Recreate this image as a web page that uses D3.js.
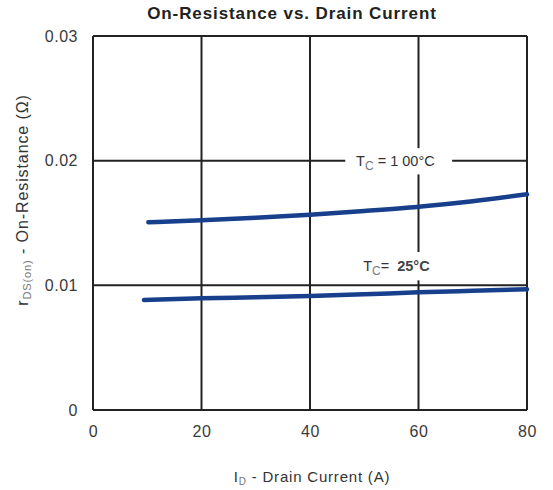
<!DOCTYPE html>
<meta charset="utf-8">
<html>
<script src="https://d3js.org/d3.v7.min.js"></script>
<body style="margin:0;background:#fff;">
<style>
    text { font-family: "Liberation Sans", Arial, sans-serif; fill: #333; }
    .title { font-weight: bold; font-size: 17px; fill: #222; letter-spacing: 0.9px; }
    .tick text { font-size: 16px; fill: #3a3a3a; letter-spacing: 0.5px; }
    .grid line { stroke: #222; stroke-width: 2; }
    .tc { white-space: pre; font-size: 14.5px; }
</style>
<div id="chart"></div>
<script>
    // data
    var xTicks = [0, 20, 40, 60, 80];
    var yTicks = [0, 0.01, 0.02, 0.03];
    var current100 = [10.2, 20, 30, 40, 50, 60, 70, 80];
    var res100 = [0.01506, 0.01522, 0.01542, 0.01567, 0.01597, 0.01631, 0.01675, 0.0173];
    var current25 = [9.4, 20, 30, 40, 50, 60, 70, 80];
    var res25 = [0.00882, 0.00896, 0.00904, 0.00914, 0.00928, 0.00944, 0.00956, 0.00968];

    var margin = {top: 36, right: 26, bottom: 80, left: 93},
        width = 553 - margin.left - margin.right,
        height = 490 - margin.top - margin.bottom;

    var svg = d3.select("#chart").append("svg")
        .attr("width", 553)
        .attr("height", 490);

    var g = svg.append("g")
        .attr("transform", "translate(" + margin.left + "," + margin.top + ")");

    var x = d3.scaleLinear().domain([0, 80]).range([0, width]);
    var y = d3.scaleLinear().domain([0, 0.03]).range([height, 0]);

    //title
    svg.append("text")
        .attr("class", "title")
        .attr("x", 292)
        .attr("y", 19)
        .attr("text-anchor", "middle")
        .text("On-Resistance vs. Drain Current");

    //grid lines
    var grid = g.append("g").attr("class", "grid");
    grid.selectAll("line.v")
        .data(xTicks)
        .enter().append("line")
        .attr("x1", function(d) {return x(d);})
        .attr("x2", function(d) {return x(d);})
        .attr("y1", 0)
        .attr("y2", height);
    grid.selectAll("line.h")
        .data(yTicks)
        .enter().append("line")
        .attr("class", "h")
        .attr("x1", 0)
        .attr("x2", width)
        .attr("y1", function(d) {return y(d);})
        .attr("y2", function(d) {return y(d);});

    //axes (labels only)
    var xAxis = g.append("g")
        .attr("transform", "translate(0," + height + ")")
        .call(d3.axisBottom(x).tickValues(xTicks).tickSize(0).tickPadding(16));
    xAxis.select(".domain").remove();

    var yAxis = g.append("g")
        .call(d3.axisLeft(y).tickValues(yTicks).tickSize(0).tickPadding(15)
            .tickFormat(function(d) {return d === 0 ? "0" : d3.format(".2f")(d);}));
    yAxis.select(".domain").remove();

    //label backgrounds cut the grid
    g.append("rect")
        .attr("x", x(46.5)).attr("y", y(0.0210))
        .attr("width", x(66.2) - x(46.5)).attr("height", y(0.0189) - y(0.0210))
        .attr("fill", "#fff");
    g.append("rect")
        .attr("x", x(49.5)).attr("y", y(0.01267))
        .attr("width", x(64) - x(49.5)).attr("height", y(0.0104) - y(0.01267))
        .attr("fill", "#fff");

    //curves
    var line = d3.line()
        .x(function(d) {return x(d[0]);})
        .y(function(d) {return y(d[1]);})
        .curve(d3.curveMonotoneX);

    g.append("path")
        .datum(d3.zip(current100, res100))
        .attr("d", line)
        .attr("fill", "none")
        .attr("stroke", "#173f8c")
        .attr("stroke-width", 4.5)
        .attr("stroke-linecap", "round");

    g.append("path")
        .datum(d3.zip(current25, res25))
        .attr("d", line)
        .attr("fill", "none")
        .attr("stroke", "#173f8c")
        .attr("stroke-width", 4.5)
        .attr("stroke-linecap", "round");

    //curve labels
    function tcLabel(px, py, mid, rest) {
        var t = g.append("text")
            .attr("class", "tc")
            .attr("x", px)
            .attr("y", py);
        t.append("tspan").text("T");
        t.append("tspan").attr("dy", 4).style("font-size", "12px").style("fill", "#777").text("C");
        t.append("tspan").attr("dy", -4).text(mid);
        t.append("tspan").style("font-weight", "bold").style("fill", "#444").text(rest);
    }
    tcLabel(x(48.5), y(0.0196), " = 1 00°C", "");
    tcLabel(x(49.8), y(0.01115), "=  ", "25°C");

    //x axis title
    var xt = svg.append("text")
        .attr("x", 312)
        .attr("y", 482)
        .attr("text-anchor", "middle")
        .style("font-size", "15px")
        .style("letter-spacing", "0.8px");
    xt.append("tspan").text("I");
    xt.append("tspan").attr("dy", 3).style("font-size", "10px").style("fill", "#777").text("D");
    xt.append("tspan").attr("dy", -3).text(" - Drain Current (A)");

    //y axis title
    var yt = svg.append("text")
        .attr("transform", "translate(28,200) rotate(-90)")
        .attr("text-anchor", "middle")
        .style("font-size", "16px")
        .style("letter-spacing", "0.9px");
    yt.append("tspan").text("r");
    yt.append("tspan").attr("dy", 3).style("font-size", "11px").style("fill", "#777").text("DS(on)");
    yt.append("tspan").attr("dy", -3).text(" - On-Resistance (Ω)");
</script>
</body>
</html>
